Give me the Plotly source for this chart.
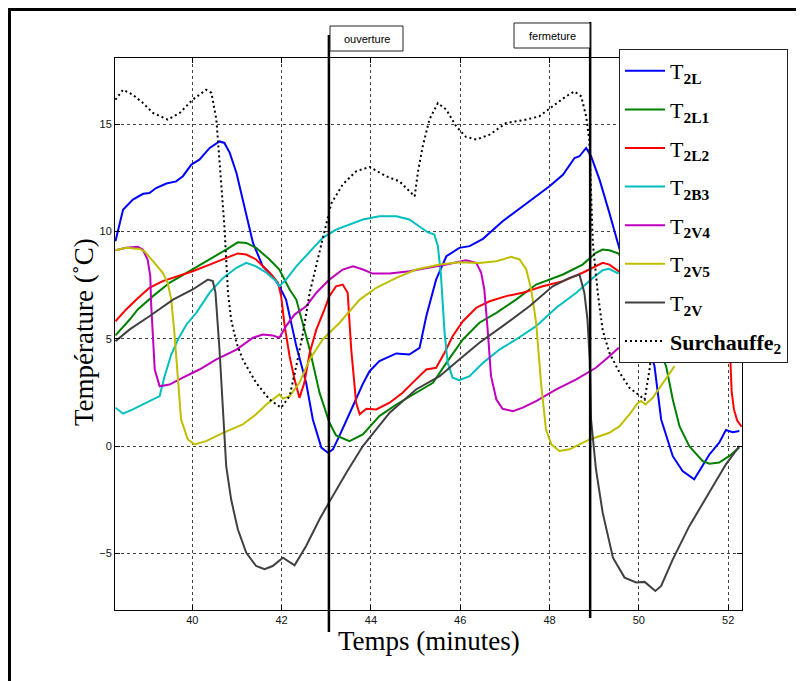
import plotly.graph_objects as go

# ---------------- data ----------------
t2l_x = [38.28, 38.45, 38.67, 38.9, 39.04, 39.19, 39.42, 39.64, 39.79, 39.98, 40.16, 40.39, 40.61, 40.72,
         40.84, 40.99, 41.13, 41.36, 41.58, 41.8, 41.95, 42.1, 42.33, 42.55, 42.7, 42.89, 43.04, 43.15,
         43.3, 43.48, 43.63, 43.82, 43.97, 44.19, 44.57, 44.86, 45.09, 45.24, 45.46, 45.69, 45.98, 46.21,
         46.51, 46.95, 47.55, 48.0, 48.3, 48.56, 48.67, 48.82, 48.93, 49.12, 49.34, 49.55, 50.35, 50.5,
         50.76, 50.98, 51.24, 51.43, 51.58, 51.8, 51.95, 52.1, 52.25]
t2l_y = [9.55, 11.02, 11.49, 11.76, 11.8, 12.03, 12.24, 12.34, 12.58, 13.12, 13.35, 13.9, 14.2, 14.13,
         13.67, 12.73, 11.49, 9.47, 8.38, 7.92, 7.45, 6.83, 4.66, 2.95, 1.24, -0.07, -0.31, -0.15,
         0.5, 1.3, 2.02, 2.9, 3.49, 3.96, 4.32, 4.27, 4.58, 6.05, 7.76, 8.85, 9.24, 9.32,
         9.66, 10.48, 11.41, 12.11, 12.65, 13.43, 13.51, 13.9, 13.51, 12.42, 10.87, 9.32, 3.73, 1.24,
         -0.47, -1.16, -1.55, -0.93, -0.39, 0.16, 0.75, 0.65, 0.7]

t2l1_x = [38.28, 38.6, 38.78, 39.12, 39.49, 39.94, 40.39, 40.76, 41.02, 41.21, 41.43, 41.73, 41.95, 42.18,
          42.33, 42.63, 42.85, 43.07, 43.22, 43.52, 43.82, 44.19, 44.57, 45.01, 45.39, 45.69, 46.06,
          46.43, 46.81, 47.25, 47.7, 48.3, 48.74, 49.04, 49.19, 49.34, 49.55, 50.61, 50.76, 50.91,
          51.13, 51.43, 51.58, 51.8, 52.02, 52.25]
t2l1_y = [5.16, 5.9, 6.37, 6.99, 7.61, 8.15, 8.7, 9.16, 9.5, 9.47, 9.24, 8.7, 8.23, 7.3,
          6.83, 4.5, 2.49, 1.1, 0.5, 0.23, 0.54, 1.4, 1.94, 2.49, 2.95, 3.88, 4.97,
          5.75, 6.21, 6.83, 7.53, 8.0, 8.46, 9.01, 9.16, 9.13, 8.98, 3.73, 2.17, 0.93,
          0.0, -0.7, -0.82, -0.77, -0.47, -0.07]

t2l2_x = [38.28, 38.52, 38.75, 39.04, 39.34, 39.64, 40.01, 40.39, 40.69, 41.02, 41.21, 41.43, 41.73, 41.92,
          41.99, 42.07, 42.18, 42.29, 42.4, 42.51, 42.63, 42.78, 42.96, 43.07, 43.22, 43.37, 43.48,
          43.56, 43.67, 43.75, 43.9, 44.12, 44.42, 44.71, 45.01, 45.24, 45.46, 45.65, 45.83, 46.06,
          46.36, 46.66, 47.03, 47.4, 47.85, 48.3, 48.74, 49.04, 49.19, 49.34, 49.55, 52.04, 52.08,
          52.13, 52.2, 52.3]
t2l2_y = [5.82, 6.37, 6.83, 7.38, 7.69, 7.89, 8.15, 8.46, 8.7, 8.98, 8.93, 8.7, 8.08, 7.61,
          6.99, 5.59, 4.19, 3.11, 2.25, 2.95, 4.35, 5.44, 6.37, 6.99, 7.45, 7.53, 7.15,
          4.5, 2.02, 1.48, 1.74, 1.71, 2.02, 2.49, 3.11, 3.57, 3.65, 4.35, 5.12, 5.82,
          6.45, 6.75, 6.99, 7.15, 7.45, 7.69, 8.08, 8.38, 8.54, 8.46, 8.15, 4.5, 2.5,
          1.71, 1.2, 0.9]

t2b3_x = [38.28, 38.45, 38.67, 38.89, 39.12, 39.27, 39.38, 39.53, 39.68, 39.87, 40.09, 40.39, 40.69, 40.99,
          41.21, 41.43, 41.66, 41.88, 41.95, 42.1, 42.33, 42.63, 42.92, 43.22, 43.52, 43.82, 44.19,
          44.57, 44.86, 45.09, 45.27, 45.42, 45.5, 45.57, 45.65, 45.72, 45.83, 45.98, 46.21, 46.51,
          46.88, 47.25, 47.7, 48.15, 48.6, 48.97, 49.19, 49.33, 49.55]
t2b3_y = [1.79, 1.51, 1.71, 1.94, 2.17, 2.33, 3.26, 4.27, 4.97, 5.67, 6.21, 7.15, 7.84, 8.31,
          8.54, 8.38, 8.08, 7.69, 7.45, 7.76, 8.38, 9.08, 9.71, 10.09, 10.33, 10.56, 10.71,
          10.71, 10.56, 10.25, 9.97, 9.86, 9.32, 7.92, 5.28, 3.88, 3.19, 3.07, 3.26, 3.88,
          4.5, 4.97, 5.59, 6.45, 7.15, 7.84, 8.2, 8.26, 8.04]

t2v4_x = [38.28, 38.52, 38.78, 38.89, 39.0, 39.06, 39.08, 39.12, 39.16, 39.27, 39.49, 39.79, 40.16, 40.54,
          40.99, 41.36, 41.58, 41.8, 41.95, 42.1, 42.29, 42.55, 42.78, 43.07, 43.37, 43.6, 43.82,
          44.04, 44.42, 44.86, 45.31, 45.69, 46.13, 46.36, 46.47, 46.54, 46.62, 46.69, 46.81, 46.95,
          47.18, 47.4, 47.7, 48.15, 48.6, 49.04, 49.34, 49.55]
t2v4_y = [9.13, 9.24, 9.29, 9.16, 8.7, 7.92, 6.6, 5.12, 3.57, 2.79, 2.87, 3.19, 3.57, 4.04,
          4.5, 5.05, 5.2, 5.16, 5.05, 5.59, 6.13, 6.52, 7.15, 7.76, 8.23, 8.38, 8.23,
          8.04, 8.04, 8.15, 8.31, 8.46, 8.66, 8.54, 8.08, 7.3, 5.28, 3.26, 2.17, 1.74,
          1.63, 1.79, 2.1, 2.64, 3.11, 3.65, 4.19, 4.58]

t2v5_x = [38.28, 38.52, 38.82, 38.93, 39.12, 39.34, 39.45, 39.53, 39.6, 39.68, 39.75, 39.9, 40.05, 40.31,
          40.69, 41.13, 41.43, 41.66, 41.88, 41.95, 42.03, 42.18, 42.4, 42.63, 42.92, 43.3, 43.75,
          44.12, 44.57, 45.01, 45.54, 45.98, 46.43, 46.81, 47.14, 47.33, 47.48, 47.59, 47.7, 47.81,
          47.92, 48.04, 48.22, 48.45, 48.67, 48.9, 49.34, 49.57, 49.79, 49.98, 50.05, 50.15, 50.31,
          50.46, 50.65, 50.8]
t2v5_y = [9.13, 9.24, 9.19, 9.08, 8.62, 8.08, 7.61, 6.83, 5.28, 2.95, 1.24, 0.31, 0.08, 0.23,
          0.62, 1.01, 1.48, 1.94, 2.33, 2.41, 2.21, 2.33, 2.95, 4.04, 4.97, 5.75, 6.83,
          7.38, 7.84, 8.23, 8.46, 8.57, 8.54, 8.62, 8.82, 8.7, 8.23, 7.3, 5.75, 2.95,
          0.78, 0.08, -0.23, -0.15, 0.08, 0.31, 0.62, 0.93, 1.48, 2.02, 2.1, 1.94, 2.25,
          2.72, 3.26, 3.73]

t2v_x = [38.28, 38.6, 39.04, 39.57, 40.01, 40.35, 40.46, 40.52, 40.61, 40.69, 40.76, 40.87, 41.02, 41.21,
         41.43, 41.62, 41.8, 42.03, 42.29, 42.55, 42.85, 43.07, 43.45, 43.82, 44.42, 45.01, 45.54,
         45.98, 46.43, 46.95, 47.55, 48.07, 48.45, 48.67, 48.78, 48.85, 48.9, 48.93, 49.04, 49.19,
         49.42, 49.68, 49.94, 50.13, 50.24, 50.37, 50.5, 50.76, 51.13, 51.58, 51.95, 52.25]
t2v_y = [4.89, 5.44, 6.05, 6.83, 7.3, 7.76, 7.69, 7.15, 4.5, 1.4, -0.93, -2.48, -3.88, -4.97,
         -5.59, -5.74, -5.59, -5.2, -5.56, -4.66, -3.41, -2.6, -1.24, 0.0, 1.56, 2.64, 3.26,
         4.04, 4.82, 5.59, 6.52, 7.45, 7.84, 8.0, 7.15, 5.9, 4.0, 1.24, -1.09, -3.1,
         -5.2, -6.13, -6.36, -6.33, -6.52, -6.75, -6.52, -5.28, -3.73, -2.17, -0.85, 0.0]

surch_x = [38.28, 38.45, 38.67, 38.89, 39.12, 39.45, 39.72, 40.01, 40.31, 40.43, 40.54, 40.61, 40.72, 40.8,
           40.87, 40.99, 41.13, 41.43, 41.73, 41.99, 42.18, 42.33, 42.48, 42.63, 42.92, 43.11, 43.37,
           43.67, 43.97, 44.34, 44.64, 44.86, 44.98, 45.05, 45.16, 45.31, 45.5, 45.69, 45.91, 46.13,
           46.36, 46.66, 47.03, 47.48, 47.77, 48.07, 48.37, 48.56, 48.71, 48.82, 48.89, 48.93, 48.97,
           49.08, 49.19, 49.34, 49.57, 49.79, 50.02, 50.13, 50.24, 50.3]
surch_y = [16.15, 16.61, 16.38, 16.0, 15.53, 15.22, 15.53, 16.15, 16.61, 16.46, 15.22, 13.35, 10.25, 7.15,
           5.9, 4.82, 4.04, 2.95, 2.17, 1.79, 2.33, 3.73, 5.28, 7.15, 9.63, 11.3, 12.2,
           12.81, 13.01, 12.58, 12.34, 11.88, 11.64, 12.73, 13.97, 15.22, 15.99, 15.68, 14.9, 14.41,
           14.29, 14.52, 15.06, 15.22, 15.37, 15.84, 16.3, 16.53, 16.3, 15.37, 14.29, 11.8, 9.47,
           7.15, 5.4, 4.35, 3.42, 2.72, 2.33, 2.17, 3.57, 4.6]

series_names = ["T<sub><b>2L</b></sub>", "T<sub><b>2L1</b></sub>", "T<sub><b>2L2</b></sub>",
                "T<sub><b>2B3</b></sub>", "T<sub><b>2V4</b></sub>", "T<sub><b>2V5</b></sub>",
                "T<sub><b>2V</b></sub>", "<b>Surchauffe</b><sub><b>2</b></sub>"]
series_x = [t2l_x, t2l1_x, t2l2_x, t2b3_x, t2v4_x, t2v5_x, t2v_x, surch_x]
series_y = [t2l_y, t2l1_y, t2l2_y, t2b3_y, t2v4_y, t2v5_y, t2v_y, surch_y]
series_colors = ["#0000FF", "#008000", "#FF0000", "#00BFBF", "#BF00BF", "#BFBF00", "#404040", "#000000"]

x_ticks = [40, 42, 44, 46, 48, 50, 52]
y_ticks = [-5, 0, 5, 10, 15]
x_range = [38.27, 52.31]
y_range = [-7.64, 18.09]

event_x = [43.06, 48.91]
event_labels = ["ouverture", "fermeture"]

# ---------------- layout geometry ----------------
# the page body adds an 8 px offset; positions below are page pixels.
# The figure is sized to fit inside the window so that nothing overflows.
OFF = 8
W, H = 804 - OFF, 681 - OFF
ML, MT = 107, 50
MR = W - (742 - OFF)
MB = H - (610 - OFF)
PW, PH = W - ML - MR, H - MT - MB


def px(x):
    return (x - OFF - ML) / PW


def py(y):
    return (H - MB - (y - OFF)) / PH


fig = go.Figure()
for i, (nm, xs, ys, col) in enumerate(zip(series_names, series_x, series_y, series_colors)):
    dash = "2px,3px" if i == 7 else "solid"
    fig.add_trace(go.Scatter(x=xs, y=ys, mode="lines", name=nm, legendgroup=str(i),
                             line=dict(color=col, width=2, dash=dash)))

shapes = []
# outer frame: top and left edges at the figure's own edge
shapes.append(dict(type="line", xref="paper", yref="paper", x0=px(OFF), x1=px(OFF + W),
                   y0=py(OFF + 1.5), y1=py(OFF + 1.5), line=dict(color="black", width=3), layer="above"))
shapes.append(dict(type="line", xref="paper", yref="paper", x0=px(OFF + 1.5), x1=px(OFF + 1.5),
                   y0=py(OFF), y1=py(OFF + H), line=dict(color="black", width=3), layer="above"))
# event lines
shapes.append(dict(type="line", xref="x", yref="paper", x0=event_x[0], x1=event_x[0],
                   y0=py(632), y1=py(35), line=dict(color="black", width=2.5), layer="above"))
shapes.append(dict(type="line", xref="x", yref="paper", x0=event_x[1], x1=event_x[1],
                   y0=py(618), y1=py(22), line=dict(color="black", width=2.5), layer="above"))
# label boxes
shapes.append(dict(type="rect", xref="paper", yref="paper", x0=px(330), x1=px(403), y0=py(51), y1=py(26),
                   line=dict(color="#222", width=1), fillcolor="white", layer="above"))
shapes.append(dict(type="rect", xref="paper", yref="paper", x0=px(514), x1=px(590), y0=py(48), y1=py(23),
                   line=dict(color="#222", width=1), fillcolor="white", layer="above"))

annotations = [
    dict(text=event_labels[0], xref="paper", yref="paper", x=px(366.5), y=py(38.5), showarrow=False,
         font=dict(family="Liberation Sans", size=11, color="black"), xanchor="center", yanchor="middle"),
    dict(text=event_labels[1], xref="paper", yref="paper", x=px(552), y=py(35.5), showarrow=False,
         font=dict(family="Liberation Sans", size=11, color="black"), xanchor="center", yanchor="middle"),
    dict(text="Temps (minutes)", xref="paper", yref="paper", x=px(428.5), y=py(641), showarrow=False,
         font=dict(family="Liberation Serif", size=27, color="black"), xanchor="center", yanchor="middle"),
    dict(text="Température (˚C)", xref="paper", yref="paper", x=px(84), y=py(332), showarrow=False,
         textangle=-90, font=dict(family="Liberation Serif", size=27, color="black"),
         xanchor="center", yanchor="middle"),
]

axis_common = dict(showline=True, linecolor="black", linewidth=1, mirror="ticks", ticks="inside",
                   ticklen=5, tickcolor="black", showgrid=True, gridcolor="#444", griddash="dot",
                   gridwidth=1, zeroline=False,
                   tickfont=dict(family="Liberation Sans", size=11, color="#111"))

fig.update_layout(
    width=W, height=H, autosize=False,
    margin=dict(l=ML, r=MR, t=MT, b=MB),
    paper_bgcolor="white", plot_bgcolor="white",
    xaxis=dict(range=x_range, tickvals=x_ticks, **axis_common),
    yaxis=dict(range=y_range, tickvals=y_ticks, **axis_common),
    shapes=shapes,
    annotations=annotations,
    showlegend=True,
    legend=dict(x=px(619), y=py(49), xanchor="left", yanchor="top",
                bgcolor="white", bordercolor="#222", borderwidth=1,
                font=dict(family="Liberation Serif", size=22, color="black"),
                tracegroupgap=7, itemwidth=40),
)

fig.write_html("out.html")
